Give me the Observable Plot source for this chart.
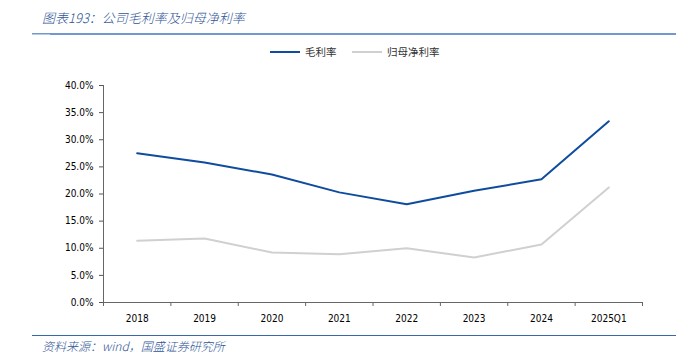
<!DOCTYPE html>
<html>
<head>
<meta charset="utf-8">
<script src="https://cdn.jsdelivr.net/npm/d3@7"></script>
<script src="https://cdn.jsdelivr.net/npm/@observablehq/plot@0.6"></script>
<style>
  html, body { margin: 0; padding: 0; background: #fff; }
  #wrap { position: relative; width: 694px; height: 363px; overflow: hidden; font-family: "Noto Sans CJK SC", sans-serif; }
  #chart { position: absolute; left: 0; top: 0; }
  .title { position: absolute; left: 42px; top: 8px; font-size: 13px; font-style: italic; color: #2f5597; white-space: nowrap; font-weight: 300; }
  .rule-top { position: absolute; left: 32px; top: 33px; width: 644px; height: 2px; background: #7199d0; }
  .rule-top-light { position: absolute; left: 32px; top: 34px; width: 18px; height: 1px; background: #b7cbe6; }
  .rule-bottom { position: absolute; left: 32px; top: 335px; width: 644px; height: 1px; background: #3d68a8; }
  .source { position: absolute; left: 42px; top: 337px; font-size: 12px; font-style: italic; color: #2f5597; white-space: nowrap; font-weight: 300; }
  .legend { position: absolute; top: 44px; font-size: 10.5px; color: #333; white-space: nowrap; display: flex; align-items: center; }
  .legend .sw { display: inline-block; width: 30px; height: 2px; margin-right: 5px; }
</style>
</head>
<body>
<div id="wrap"></div>
<script>
const categories = ["2018", "2019", "2020", "2021", "2022", "2023", "2024", "2025Q1"];
const grossMargin = [0.275, 0.258, 0.236, 0.203, 0.181, 0.206, 0.227, 0.334];
const netMargin = [0.114, 0.118, 0.092, 0.089, 0.100, 0.083, 0.107, 0.212];
const seriesNames = ["毛利率", "归母净利率"];
const seriesColors = ["#0f4c9e", "#d0d0d0"];
const yTicks = [0, 0.05, 0.10, 0.15, 0.20, 0.25, 0.30, 0.35, 0.40];
const titleText = "图表193：公司毛利率及归母净利率";
const sourceText = "资料来源：wind，国盛证券研究所";

const rows = [];
categories.forEach((c, i) => {
  rows.push({i, cat: c, series: seriesNames[0], value: grossMargin[i]});
  rows.push({i, cat: c, series: seriesNames[1], value: netMargin[i]});
});
const idx = categories.map((c, i) => i);
const boundaries = d3.range(-0.5, categories.length, 1);

const chart = Plot.plot({
  width: 694,
  height: 363,
  marginLeft: 103,
  marginRight: 52,
  marginTop: 85,
  marginBottom: 61,
  style: { fontFamily: "'DejaVu Sans Condensed', 'DejaVu Sans', sans-serif", fontSize: "10px", color: "#000", background: "transparent" },
  x: { type: "linear", domain: [-0.5, categories.length - 0.5], axis: null },
  y: { domain: [0, 0.4], axis: null },
  color: { domain: seriesNames, range: seriesColors },
  marks: [
    Plot.axisY({ ticks: yTicks, tickFormat: d3.format(".1%"), tickSize: 4, tickPadding: 6, stroke: "#555", label: null }),
    Plot.ruleX([-0.5], { stroke: "#666", strokeWidth: 1 }),
    Plot.axisX({ ticks: boundaries, tickSize: 4, tickFormat: () => "", stroke: "#666", label: null }),
    Plot.axisX({ ticks: idx, tickSize: 0, tickPadding: 12, tickFormat: i => categories[i], label: null }),
    Plot.ruleY([0], { stroke: "#666", strokeWidth: 1 }),
    Plot.lineY(rows, { x: "i", y: "value", z: "series", stroke: "series", strokeWidth: 2 })
  ]
});
chart.id = "chart";

const wrap = document.getElementById("wrap");
wrap.appendChild(chart);

function addDiv(cls, text) {
  const d = document.createElement("div");
  d.className = cls;
  if (text) d.textContent = text;
  wrap.appendChild(d);
  return d;
}
addDiv("title", titleText);
addDiv("rule-top");
addDiv("rule-top-light");
addDiv("rule-bottom");
addDiv("source", sourceText);

const legendLefts = [270, 352];
seriesNames.forEach((name, k) => {
  const lg = addDiv("legend");
  lg.style.left = legendLefts[k] + "px";
  const sw = document.createElement("span");
  sw.className = "sw";
  sw.style.background = seriesColors[k];
  lg.appendChild(sw);
  const t = document.createElement("span");
  t.textContent = name;
  lg.appendChild(t);
});
</script>
</body>
</html>
